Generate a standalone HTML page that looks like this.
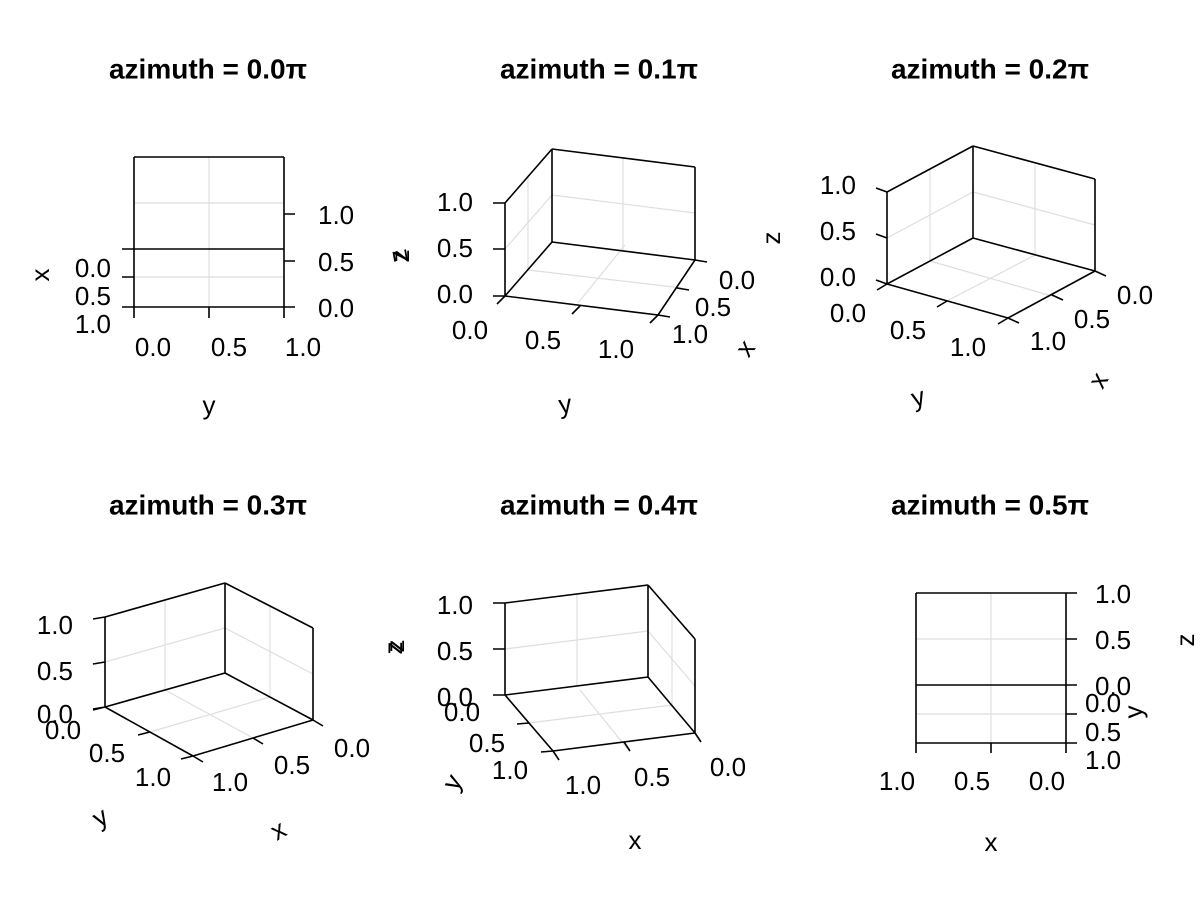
<!DOCTYPE html>
<html><head><meta charset="utf-8"><style>
html,body{margin:0;padding:0;background:#fff;}
svg{display:block;font-family:"Liberation Sans",sans-serif;}
.t{font-size:26px;fill:#000;dominant-baseline:central;}
.ti{font-size:28px;font-weight:bold;text-anchor:middle;dominant-baseline:central;}
.g{stroke:#000;stroke-opacity:0.13;stroke-width:1.2;fill:none;}
.a{stroke:#000;stroke-width:1.6;fill:none;}
.e{text-anchor:end;} .m{text-anchor:middle;}
</style></head><body>
<svg width="1200" height="900" viewBox="0 0 1200 900">
<rect width="1200" height="900" fill="#fff"/>
<text class="ti" x="208" y="69">azimuth = 0.0π</text>
<text class="ti" x="599" y="69">azimuth = 0.1π</text>
<text class="ti" x="990" y="69">azimuth = 0.2π</text>
<text class="ti" x="208" y="505">azimuth = 0.3π</text>
<text class="ti" x="599" y="505">azimuth = 0.4π</text>
<text class="ti" x="990" y="505">azimuth = 0.5π</text>

<!-- Panel 1 -->
<g>
<path class="g" d="M209 157V307M134 203H284M134 277H284"/>
<path class="a" d="M134 157H284M134 157V307M284 157V307M122 249H284M122 307H295M284 214H295M284 261H295M122 277H134M134 307V318M209 307V318M284 307V318"/>
<text class="t" x="318" y="215">1.0</text><text class="t" x="318" y="262">0.5</text><text class="t" x="318" y="308">0.0</text>
<text class="t e" x="111" y="268">0.0</text><text class="t e" x="111" y="296">0.5</text><text class="t e" x="111" y="324">1.0</text>
<text class="t m" x="153" y="347">0.0</text><text class="t m" x="229" y="347">0.5</text><text class="t m" x="303" y="347">1.0</text>
<text class="t m" x="209" y="405">y</text>
<text class="t m" transform="translate(40,275) rotate(-90)">x</text>
<text class="t m" transform="translate(400,256) rotate(-90)">z</text>
</g>

<!-- Panel 2 -->
<g>
<path class="g" d="M623 158V251M552 195L695 213M528 177V270M505 249L552 195M528 270L682 288M578 303L625 245"/>
<path class="a" d="M552 149L695 167M552 149V242M695 167V260M505 203V296M505 203L552 149M505 296L658 315M658 315L695 260M505 296L552 242M552 242L695 260M493 203H505M493 249H505M493 296H505M505 296L497 304M580 306L572 314M658 315L650 323M695 260L707 262M677 288L689 290M658 315L670 317"/>
<text class="t e" x="473" y="202">1.0</text><text class="t e" x="473" y="248">0.5</text><text class="t e" x="473" y="294">0.0</text>
<text class="t m" x="470" y="330">0.0</text><text class="t m" x="543" y="340">0.5</text><text class="t m" x="616" y="349">1.0</text>
<text class="t m" x="737" y="280">0.0</text><text class="t m" x="713" y="307">0.5</text><text class="t m" x="690" y="334">1.0</text>
<text class="t m" transform="translate(565,404) rotate(-8)">y</text>
<text class="t m" transform="translate(745,348) rotate(-55)">x</text>
<text class="t m" transform="translate(398,256) rotate(-100)">z</text>
</g>

<!-- Panel 3 -->
<g>
<path class="g" d="M1035 165V255M973 192L1095 225M930 169V261M887 238L973 192M930 261L1052 296M947 301L1035 255"/>
<path class="a" d="M887 192L973 146M973 146L1095 179M973 146V238M1095 179V271M887 192V284M887 284L973 238M973 238L1095 271M887 284L1008 318M1008 318L1095 271M876 188L887 192M876 234L887 238M876 280L887 284M887 284L877 290M947 301L937 307M1008 318L998 324M1095 271L1106 276M1052 295L1063 300M1008 318L1019 323"/>
<text class="t e" x="856" y="185">1.0</text><text class="t e" x="856" y="231">0.5</text><text class="t e" x="856" y="277">0.0</text>
<text class="t m" x="848" y="313">0.0</text><text class="t m" x="908" y="330">0.5</text><text class="t m" x="968" y="347">1.0</text>
<text class="t m" x="1135" y="295">0.0</text><text class="t m" x="1092" y="319">0.5</text><text class="t m" x="1048" y="341">1.0</text>
<text class="t m" transform="translate(918,397) rotate(-15)">y</text>
<text class="t m" transform="translate(1098,380) rotate(-60)">x</text>
<text class="t m" transform="translate(771,238) rotate(-90)">z</text>
</g>

<!-- Panel 4 -->
<g>
<path class="g" d="M165 601V690M105 662L225 628M270 606V697M225 628L313 674M165 690L253 738M150 732L270 697"/>
<path class="a" d="M105 617L225 583M225 583L313 628M225 583V673M105 617V707M313 628V720M105 707L225 673M225 673L313 720M105 707L193 756M193 756L313 720M93 619L105 617M93 664L105 662M93 709L105 707M105 707L93 710M150 732L138 735M193 756L181 759M193 756L203 762M253 738L263 744M313 720L323 726"/>
<text class="t e" x="73" y="625">1.0</text><text class="t e" x="73" y="671">0.5</text><text class="t e" x="73" y="714">0.0</text>
<text class="t m" x="63" y="730">0.0</text><text class="t m" x="107" y="753">0.5</text><text class="t m" x="153" y="777">1.0</text>
<text class="t m" x="230" y="782">1.0</text><text class="t m" x="292" y="765">0.5</text><text class="t m" x="352" y="748">0.0</text>
<text class="t m" transform="translate(100,817) rotate(-30)">y</text>
<text class="t m" transform="translate(278,830) rotate(-30)">x</text>
<text class="t m" transform="translate(395,646) rotate(-90)">z</text>
</g>

<!-- Panel 5 -->
<g>
<path class="g" d="M577 594V686M505 649L648 631M672 612V705M648 631L695 686M580 690L630 752M529 723L672 705"/>
<path class="a" d="M505 603L648 585M648 585L695 639M505 603V695M648 585V677M695 639V733M505 695L648 677M648 677L695 733M505 695L553 751M553 751L695 733M493 603H505M493 649H505M493 695H505M529 723L517 724M553 751L541 752M553 751L559 760M624 742L630 751M695 733L701 742"/>
<text class="t e" x="473" y="605">1.0</text><text class="t e" x="473" y="651">0.5</text><text class="t e" x="473" y="697">0.0</text>
<text class="t m" x="462" y="712">0.0</text><text class="t m" x="487" y="743">0.5</text><text class="t m" x="510" y="770">1.0</text>
<text class="t m" x="583" y="785">1.0</text><text class="t m" x="652" y="777">0.5</text><text class="t m" x="728" y="767">0.0</text>
<text class="t m" transform="translate(452,782) rotate(-60)">y</text>
<text class="t m" x="635" y="840">x</text>
<text class="t m" transform="translate(393,648) rotate(-90)">z</text>
</g>

<!-- Panel 6 -->
<g>
<path class="g" d="M991 593V743M916 639H1066M916 714H1066"/>
<path class="a" d="M916 593H1077M916 593V743M1066 593V743M916 685H1077M916 743H1077M1066 639H1077M1066 714H1077M916 743V753M991 743V753M1066 743V753"/>
<text class="t" x="1095" y="594">1.0</text><text class="t" x="1095" y="640">0.5</text><text class="t" x="1095" y="686">0.0</text>
<text class="t" x="1085" y="703">0.0</text><text class="t" x="1085" y="732">0.5</text><text class="t" x="1085" y="760">1.0</text>
<text class="t m" x="897" y="781">1.0</text><text class="t m" x="972" y="781">0.5</text><text class="t m" x="1047" y="781">0.0</text>
<text class="t m" x="991" y="842">x</text>
<text class="t m" transform="translate(1133,712) rotate(-90)">y</text>
<text class="t m" transform="translate(1185,640) rotate(-90)">z</text>
</g>
</svg>
</body></html>
